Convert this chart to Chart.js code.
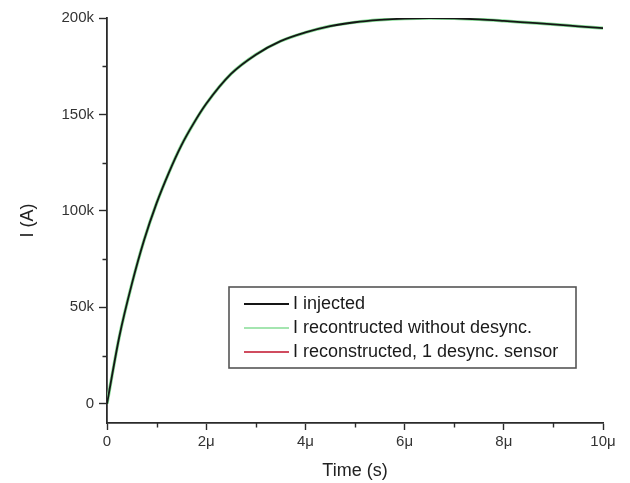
<!DOCTYPE html>
<html>
<head>
<meta charset="utf-8">
<script src="https://cdn.jsdelivr.net/npm/chart.js@4"></script>
<style>
  html, body { margin: 0; padding: 0; background: #fff; }
  #wrap { width: 630px; height: 483px; }
</style>
</head>
<body>
<div id="wrap"><canvas id="c" width="630" height="483"></canvas></div>
<script>
// Time in microseconds
const timeUs = [0, 0.25, 0.5, 0.75, 1, 1.25, 1.5, 1.75, 2, 2.5, 3, 3.5, 4, 4.5, 5, 5.5, 6, 6.5, 7, 7.5, 8, 8.5, 9, 9.5, 10];
// Current in amperes
const injected      = [0, 35000, 62000, 85000, 104000, 120000, 134000, 145500, 155500, 171000, 181000, 188000, 192500, 195800, 197800, 199000, 199700, 199900, 199800, 199300, 198500, 197600, 196700, 195700, 194700];
const reconNoDesync = [0, 35000, 62000, 85000, 104000, 120000, 134000, 145500, 155500, 171000, 181000, 188000, 192500, 195800, 197800, 199000, 199700, 199900, 199800, 199300, 198500, 197600, 196700, 195700, 194700];
const reconDesync   = [0, 35000, 62000, 85000, 104000, 120000, 134000, 145500, 155500, 171000, 181000, 188000, 192500, 195800, 197800, 199000, 199700, 199900, 199800, 199300, 198500, 197600, 196700, 195700, 194700];

const seriesLabels = ['I injected', 'I recontructed without desync.', 'I reconstructed, 1 desync. sensor'];
const xTickLabels = { 0: '0', 2: '2\u03bc', 4: '4\u03bc', 6: '6\u03bc', 8: '8\u03bc', 10: '10\u03bc' };
const yTickLabels = { 0: '0', 50000: '50k', 100000: '100k', 150000: '150k', 200000: '200k' };

const pts = arr => arr.map((v, i) => ({ x: timeUs[i], y: v }));
const FONT = "'Liberation Sans', Arial, sans-serif";
const AXIS = '#2a2a2a';

// Short minor tick marks at odd microseconds and at 25k steps
const minorTicks = {
  id: 'minorTicks',
  afterDraw(chart) {
    const ctx = chart.ctx, xs = chart.scales.x, ys = chart.scales.y;
    ctx.save();
    ctx.strokeStyle = AXIS;
    ctx.lineWidth = 1.4;
    ctx.beginPath();
    for (let t = 1; t < 10; t += 2) {
      const px = Math.round(xs.getPixelForValue(t)) + 0.5;
      ctx.moveTo(px, xs.top); ctx.lineTo(px, xs.top + 4.5);
    }
    for (let v = 25000; v < 200000; v += 50000) {
      const py = Math.round(ys.getPixelForValue(v)) + 0.5;
      ctx.moveTo(ys.right, py); ctx.lineTo(ys.right - 4.5, py);
    }
    ctx.stroke();
    ctx.restore();
  }
};

// Boxed legend inside the plot area
const boxLegend = {
  id: 'boxLegend',
  afterDraw(chart) {
    const ctx = chart.ctx;
    const order = [2, 1, 0];
    const bx = 229, by = 287, bw = 347, bh = 81;
    ctx.save();
    ctx.fillStyle = '#fff';
    ctx.fillRect(bx, by, bw, bh);
    ctx.strokeStyle = '#555';
    ctx.lineWidth = 1.6;
    ctx.strokeRect(bx, by, bw, bh);
    ctx.font = '18px ' + FONT;
    ctx.textBaseline = 'middle';
    order.forEach((di, row) => {
      const ds = chart.data.datasets[di];
      const y = by + 17 + row * 24;
      ctx.strokeStyle = ds.borderColor;
      ctx.lineWidth = ds.legendWidth;
      ctx.beginPath();
      ctx.moveTo(244, y); ctx.lineTo(289, y);
      ctx.stroke();
      ctx.fillStyle = '#1a1a1a';
      ctx.fillText(ds.label, 293, y);
    });
    ctx.restore();
  }
};

new Chart(document.getElementById('c'), {
  type: 'line',
  data: {
    datasets: [
      { label: seriesLabels[2], data: pts(reconDesync), borderColor: '#c0102a', borderWidth: 1.2, legendWidth: 1.4, pointRadius: 0, cubicInterpolationMode: 'monotone', order: 3 },
      { label: seriesLabels[1], data: pts(reconNoDesync), borderColor: '#86dc96', borderWidth: 3.2, legendWidth: 1.6, pointRadius: 0, cubicInterpolationMode: 'monotone', order: 2 },
      { label: seriesLabels[0], data: pts(injected), borderColor: '#151515', borderWidth: 1.8, legendWidth: 2.2, pointRadius: 0, cubicInterpolationMode: 'monotone', order: 1 }
    ]
  },
  options: {
    responsive: false,
    animation: false,
    layout: { padding: { left: 0, top: 18, right: 27, bottom: 0 } },
    plugins: { legend: { display: false }, tooltip: { enabled: false } },
    scales: {
      x: {
        type: 'linear', min: 0, max: 10,
        afterFit(s) { s.height = 60; },
        border: { display: true, color: AXIS, width: 1.8 },
        grid: { drawOnChartArea: false, drawTicks: true, tickLength: 7, tickColor: AXIS, tickWidth: 1.4 },
        ticks: {
          stepSize: 2, color: '#333', padding: 3,
          font: { family: FONT, size: 15 },
          maxRotation: 0,
          callback: v => xTickLabels[v] ?? ''
        },
        title: { display: true, text: 'Time (s)', color: '#222', font: { family: FONT, size: 18 }, padding: { top: 0, bottom: 1 } }
      },
      y: {
        type: 'linear', min: -10000, max: 200000,
        afterFit(s) { s.width = 107; },
        afterBuildTicks(s) { s.ticks = Object.keys(yTickLabels).map(v => ({ value: +v })); },
        border: { display: true, color: AXIS, width: 1.8 },
        grid: { drawOnChartArea: false, drawTicks: true, tickLength: 8, tickColor: AXIS, tickWidth: 1.4 },
        ticks: {
          color: '#333', padding: 5,
          font: { family: FONT, size: 15 },
          callback: v => yTickLabels[v] ?? ''
        },
        title: { display: true, text: 'I (A)', color: '#222', font: { family: FONT, size: 18 }, padding: { top: 17, bottom: 0 } }
      }
    }
  },
  plugins: [minorTicks, boxLegend]
});
</script>
</body>
</html>
